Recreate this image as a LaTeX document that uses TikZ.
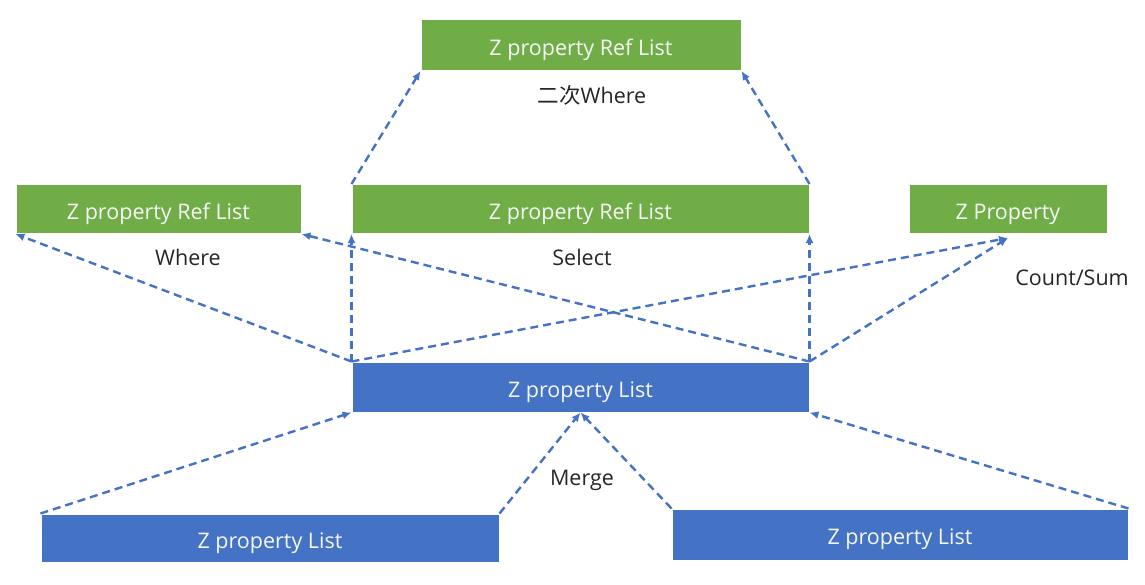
\documentclass[tikz,border=0pt]{standalone}
\usepackage{fontspec}
\setmainfont{Open Sans}
\newfontfamily\cjk{Noto Sans CJK SC}
\usepackage{tikz}
\usetikzlibrary{positioning,arrows.meta}
\definecolor{refgreen}{HTML}{70AD47}
\definecolor{listblue}{HTML}{4472C4}
\definecolor{labelgray}{HTML}{262626}
\tikzset{
    box/.style={rectangle, fill=#1, draw=white, line width=1pt, text=white!94!gray,
        inner sep=0pt, text height=22pt, text depth=2pt,
        font=\fontsize{21.5}{26}\selectfont},
    refbox/.style={box=refgreen, minimum height=49pt},
    listbox/.style={box=listblue, minimum height=49pt},
    flow/.style={draw=listblue, line width=2.4pt, dash pattern=on 8pt off 5pt,
        -{Latex[length=9pt,width=8pt]}},
    op/.style={text=labelgray, font=\fontsize{21.5}{26}\selectfont},
}
\begin{document}
\begin{tikzpicture}[x=1pt, y=-1pt]
    \useasboundingbox (0,0) rectangle (1145,584);
    % result boxes
    \node[refbox, minimum width=320pt, minimum height=51pt] (refTop) at (581,45) {Z property Ref List};
    \node[refbox, minimum width=285pt] (refWhere) at (158.5,209) {Z property Ref List};
    \node[refbox, minimum width=457pt] (refSelect) at (580.5,209) {Z property Ref List};
    \node[refbox, minimum width=198pt] (propCount) at (1008,209) {Z Property};
    % lists
    \node[listbox, minimum width=457pt, minimum height=50pt] (listMid) at (580.5,387) {Z property List};
    \node[listbox, minimum width=458pt, minimum height=48pt] (listLeft) at (270,538) {Z property List};
    \node[listbox, minimum width=456pt, minimum height=51pt] (listRight) at (900,534.5) {Z property List};
    % operation labels
    \node[op] (lblWhere2) at (592,95) {{\cjk 二次}Where};
    \node[op] (lblWhere) at (188,257) {Where};
    \node[op] (lblSelect) at (582,257) {Select};
    \node[op] (lblCount) at (1072,278) {Count/Sum};
    \node[op] (lblMerge) at (582,480) {Merge};
    % arrows
    \draw[flow] (refSelect.north west) -- (refTop.south west);
    \draw[flow] (refSelect.north east) -- (refTop.south east);
    \draw[flow] (listMid.north west) -- (refWhere.south west);
    \draw[flow] (listMid.north east) -- (refWhere.south east);
    \draw[flow] (listMid.north west) -- (refSelect.south west);
    \draw[flow] (listMid.north east) -- (refSelect.south east);
    \draw[flow] (listMid.north west) -- ([yshift=-4pt]propCount.south);
    \draw[flow] (listMid.north east) -- ([yshift=-4pt]propCount.south);
    \draw[flow] (listLeft.north west) -- (listMid.south west);
    \draw[flow] (listLeft.north east) -- (listMid.south);
    \draw[flow] (listRight.north west) -- (listMid.south);
    \draw[flow] (listRight.north east) -- (listMid.south east);
\end{tikzpicture}
\end{document}
